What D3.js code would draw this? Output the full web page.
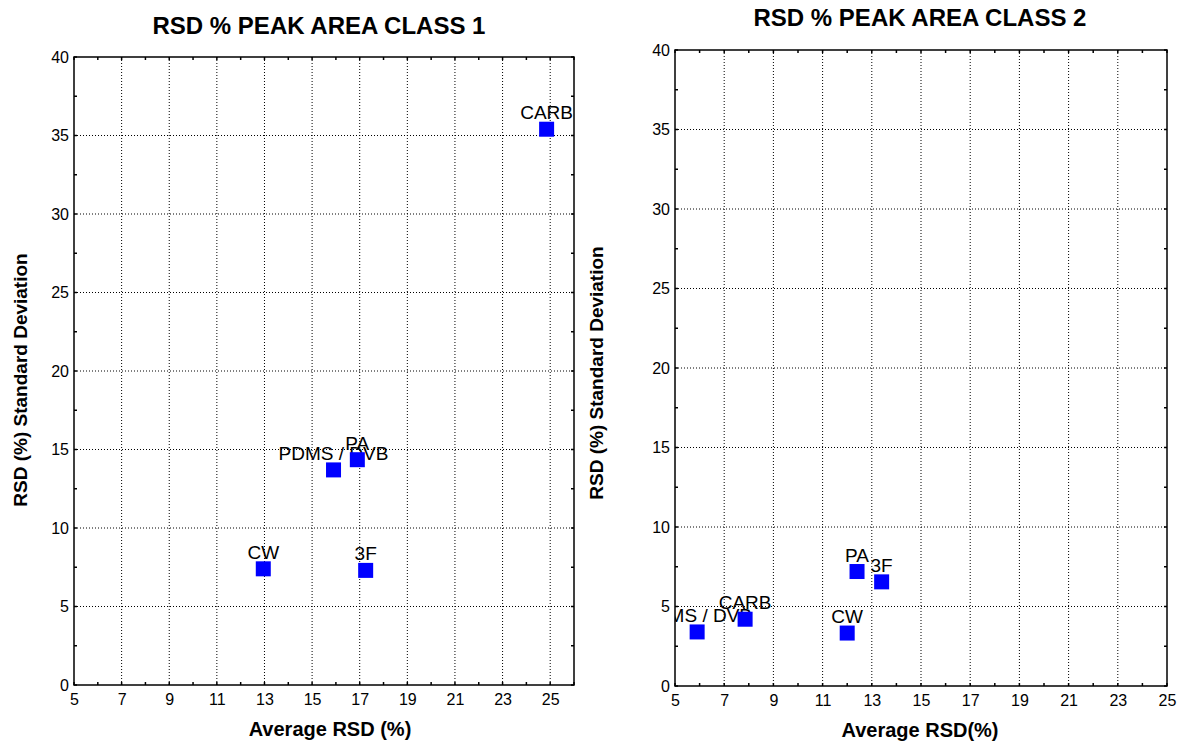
<!DOCTYPE html>
<html><head><meta charset="utf-8">
<script src="https://cdn.jsdelivr.net/npm/d3@7"></script>
<style>body{margin:0;background:#fff;}svg{display:block;font-family:"Liberation Sans",Arial,sans-serif;}</style>
</head><body>
<svg id="chart" width="1179" height="743"></svg>
<script>
const class1Names = ["CARB", "PDMS / DVB", "PA", "CW", "3F"];
const class1X = [24.85, 15.9, 16.9, 12.95, 17.25];
const class1Y = [35.4, 13.7, 14.35, 7.4, 7.3];

const class2Names = ["PDMS / DVB", "CARB", "CW", "PA", "3F"];
const class2X = [5.9, 7.85, 12.0, 12.4, 13.4];
const class2Y = [3.4, 4.2, 3.33, 7.2, 6.55];

const xTickValues = [5, 7, 9, 11, 13, 15, 17, 19, 21, 23, 25];
const yTickValues = [0, 5, 10, 15, 20, 25, 30, 35, 40];

const titles = ["RSD % PEAK AREA CLASS 1", "RSD % PEAK AREA CLASS 2"];
const xTitles = ["Average RSD (%)", "Average RSD(%)"];
const yTitle = "RSD (%) Standard Deviation";

const svg = d3.select("#chart");

function drawPanel(o) {
  const g = svg.append("g");
  const x = d3.scaleLinear().domain(o.xDomain).range([o.left, o.right]);
  const y = d3.scaleLinear().domain([0, 40]).range([o.bottom, o.top]);
  const id = "clip" + o.idx;
  svg.append("clipPath").attr("id", id).append("rect")
    .attr("x", o.left).attr("y", o.top).attr("width", o.right - o.left).attr("height", o.bottom - o.top);

  // grid
  g.selectAll(".vg").data(xTickValues.filter(v => v > o.xDomain[0] && v < o.xDomain[1])).join("line")
    .attr("x1", d => x(d)).attr("x2", d => x(d)).attr("y1", o.top).attr("y2", o.bottom)
    .attr("stroke", "#000").attr("stroke-width", 1).attr("stroke-dasharray", "1,2");
  g.selectAll(".hg").data(yTickValues.filter(v => v > 0 && v < 40)).join("line")
    .attr("x1", o.left).attr("x2", o.right).attr("y1", d => y(d)).attr("y2", d => y(d))
    .attr("stroke", "#000").attr("stroke-width", 1).attr("stroke-dasharray", "1,2");

  // axes labels
  const xAxisB = d3.axisBottom(x).tickValues(xTickValues).tickSize(0).tickPadding(9).tickFormat(d3.format("d"));
  const gx = g.append("g").attr("transform", `translate(0,${o.bottom})`).call(xAxisB);
  gx.select(".domain").remove();
  gx.selectAll("text").attr("font-size", 16).attr("fill", "#000").attr("font-family", "Liberation Sans, Arial, sans-serif");
  const yAxisL = d3.axisLeft(y).tickValues(yTickValues).tickSize(0).tickPadding(5).tickFormat(d3.format("d"));
  const gy = g.append("g").attr("transform", `translate(${o.left},0)`).call(yAxisL);
  gy.select(".domain").remove();
  gy.selectAll("text").attr("font-size", 16).attr("fill", "#000").attr("font-family", "Liberation Sans, Arial, sans-serif");

  // inward tick marks on all four sides
  const xMinor = d3.range(o.xDomain[0], o.xDomain[1] + 0.001, 1);
  const yMinor = d3.range(0, 40.001, 2.5);
  xMinor.forEach(v => {
    [[o.bottom, -3], [o.top, 3]].forEach(([yy, dy]) => {
      g.append("line").attr("x1", x(v)).attr("x2", x(v)).attr("y1", yy).attr("y2", yy + dy)
        .attr("stroke", "#000").attr("stroke-width", 1.5);
    });
  });
  yMinor.forEach(v => {
    [[o.left, 3], [o.right, -3]].forEach(([xx, dx]) => {
      g.append("line").attr("x1", xx).attr("x2", xx + dx).attr("y1", y(v)).attr("y2", y(v))
        .attr("stroke", "#000").attr("stroke-width", 1.5);
    });
  });

  g.append("rect").attr("x", o.left).attr("y", o.top).attr("width", o.right - o.left).attr("height", o.bottom - o.top)
    .attr("fill", "none").attr("stroke", "#000").attr("stroke-width", 1.5);

  const pts = o.names.map((n, i) => ({ n, x: o.xs[i], y: o.ys[i] }));
  const pg = g.append("g").attr("clip-path", `url(#${id})`);
  pg.selectAll("text.lbl").data(pts).join("text").attr("class", "lbl")
    .attr("x", d => x(d.x)).attr("y", d => y(d.y) - 10)
    .attr("text-anchor", "middle").attr("font-size", 19).attr("fill", "#000").text(d => d.n);
  pg.selectAll("rect.pt").data(pts).join("rect").attr("class", "pt")
    .attr("x", d => x(d.x) - 7.5).attr("y", d => y(d.y) - 7.5).attr("width", 15).attr("height", 15)
    .attr("fill", "#0000ff");

  g.append("text").attr("x", o.titleX).attr("y", o.titleY).attr("text-anchor", "middle")
    .attr("font-size", 24).attr("font-weight", "bold").text(o.title);
  g.append("text").attr("x", o.xTitleX).attr("y", o.xTitleY).attr("text-anchor", "middle")
    .attr("font-size", 20).attr("font-weight", "bold").text(o.xTitle);
  g.append("text").attr("transform", `translate(${o.yTitleX},${o.yTitleY}) rotate(-90)`).attr("text-anchor", "middle")
    .attr("font-size", 19).attr("font-weight", "bold").text(yTitle);
}

drawPanel({ idx: 1, left: 74, right: 574, top: 57, bottom: 685, xDomain: [5, 26],
  names: class1Names, xs: class1X, ys: class1Y, title: titles[0], xTitle: xTitles[0],
  titleX: 319, titleY: 34, xTitleX: 330, xTitleY: 736, yTitleX: 27, yTitleY: 380 });
drawPanel({ idx: 2, left: 675, right: 1167, top: 50, bottom: 686, xDomain: [5, 25],
  names: class2Names, xs: class2X, ys: class2Y, title: titles[1], xTitle: xTitles[1],
  titleX: 920, titleY: 26, xTitleX: 920, xTitleY: 737, yTitleX: 603, yTitleY: 373 });
</script>
</body></html>
